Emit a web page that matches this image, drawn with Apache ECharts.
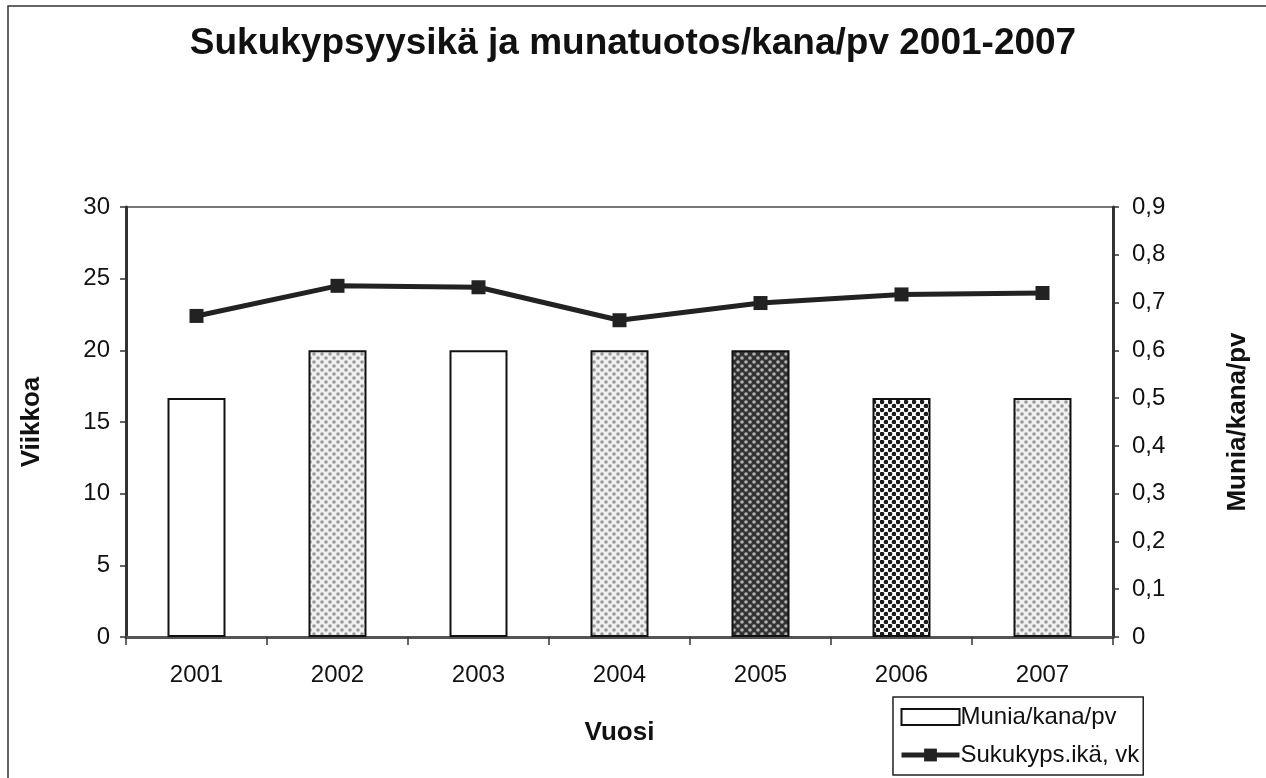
<!DOCTYPE html>
<html>
<head>
<meta charset="utf-8">
<script src="https://cdn.jsdelivr.net/npm/echarts@6/dist/echarts.min.js"></script>
<style>
html,body{margin:0;padding:0;background:#fff;}
#chart{width:1266px;height:778px;}
</style>
</head>
<body>
<div id="chart"></div>
<script>
var years = ['2001', '2002', '2003', '2004', '2005', '2006', '2007'];
var eggsPerHen = [0.5, 0.6, 0.6, 0.6, 0.6, 0.5, 0.5];
var maturityWeeks = [22.4, 24.5, 24.4, 22.1, 23.3, 23.9, 24.0];
var barFills = ['white', 'light', 'white', 'light', 'dark', 'black', 'light'];

// small dotted textures, like the printed fill patterns
function dotPattern(bg, dot, r) {
	var c = document.createElement('canvas');
	c.width = 8; c.height = 8;
	var g = c.getContext('2d');
	g.fillStyle = bg;
	g.fillRect(0, 0, 8, 8);
	g.fillStyle = dot;
	[[2, 2], [6, 6]].forEach(function (p) {
		g.beginPath();
		g.arc(p[0], p[1], r, 0, Math.PI * 2);
		g.fill();
	});
	return {image: c, repeat: 'repeat'};
}
var fills = {
	white: '#ffffff',
	light: dotPattern('#f0f0f0', '#9a9a9a', 1.8),
	dark: dotPattern('#333333', '#b0b0b0', 1.8),
	black: dotPattern('#ffffff', '#1a1a1a', 2.3)
};

var font = 'Liberation Sans, Arial, sans-serif';
var chart = echarts.init(document.getElementById('chart'));
chart.setOption({
	animation: false,
	backgroundColor: '#fff',
	textStyle: {fontFamily: font},
	title: {
		text: 'Sukukypsyysikä ja munatuotos/kana/pv 2001-2007',
		left: 'center',
		top: 20,
		textStyle: {fontFamily: font, fontSize: 37, fontWeight: 'bold', color: '#111'}
	},
	graphic: [{
		type: 'rect',
		shape: {x: 8, y: 6, width: 1280, height: 800},
		style: {fill: 'none', stroke: '#333', lineWidth: 1.5},
		silent: true,
		z: -1
	}],
	legend: {
		orient: 'vertical',
		left: 893,
		top: 697,
		height: 90,
		padding: [8, 4, 8, 6],
		itemGap: 14,
		itemWidth: 58,
		itemHeight: 16,
		borderColor: '#222',
		borderWidth: 1.5,
		textStyle: {fontFamily: font, fontSize: 24, color: '#111', padding: [0, 0, 0, -4]},
		data: [
			{name: 'Munia/kana/pv', icon: 'rect', itemStyle: {color: '#fff', borderColor: '#111', borderWidth: 2}},
			{name: 'Sukukyps.ikä, vk', lineStyle: {width: 5, color: '#222'}}
		]
	},
	grid: {left: 126, right: 153, top: 207, bottom: 141, show: true, borderColor: '#777', borderWidth: 2},
	xAxis: {
		type: 'category',
		data: years,
		name: 'Vuosi',
		nameLocation: 'middle',
		nameGap: 83,
		nameTextStyle: {fontFamily: font, fontSize: 26, fontWeight: 'bold', color: '#111'},
		axisLine: {lineStyle: {color: '#555', width: 3}},
		axisTick: {show: true, length: 8, lineStyle: {color: '#333', width: 1.5}},
		axisLabel: {fontSize: 24, color: '#111', margin: 26}
	},
	yAxis: [{
		type: 'value',
		min: 0, max: 30, interval: 5,
		name: 'Viikkoa',
		nameLocation: 'middle',
		nameGap: 81,
		nameTextStyle: {fontFamily: font, fontSize: 26, fontWeight: 'bold', color: '#111'},
		axisLine: {show: true, lineStyle: {color: '#333', width: 3}},
		axisTick: {show: true, length: 6, lineStyle: {color: '#333', width: 1.5}},
		axisLabel: {fontSize: 24, color: '#111', margin: 16},
		splitLine: {show: false}
	}, {
		type: 'value',
		min: 0, max: 0.9, interval: 0.1,
		position: 'right',
		name: 'Munia/kana/pv',
		nameLocation: 'middle',
		nameGap: 112,
		nameRotate: 90,
		nameTextStyle: {fontFamily: font, fontSize: 26, fontWeight: 'bold', color: '#111'},
		axisLine: {show: true, lineStyle: {color: '#333', width: 3}},
		axisTick: {show: true, length: 6, lineStyle: {color: '#333', width: 1.5}},
		axisLabel: {
			fontSize: 24, color: '#111', margin: 19,
			formatter: function (v) { return v === 0 ? '0' : v.toFixed(1).replace('.', ','); }
		},
		splitLine: {show: false}
	}],
	series: [{
		name: 'Munia/kana/pv',
		type: 'bar',
		yAxisIndex: 1,
		barWidth: 58,
		data: eggsPerHen.map(function (v, i) {
			return {value: v, itemStyle: {color: fills[barFills[i]], borderColor: '#111', borderWidth: 2}};
		})
	}, {
		name: 'Sukukyps.ikä, vk',
		type: 'line',
		yAxisIndex: 0,
		data: maturityWeeks,
		symbol: 'rect',
		symbolSize: 14,
		lineStyle: {color: '#222', width: 5},
		itemStyle: {color: '#222'},
		z: 5
	}]
});
</script>
</body>
</html>
